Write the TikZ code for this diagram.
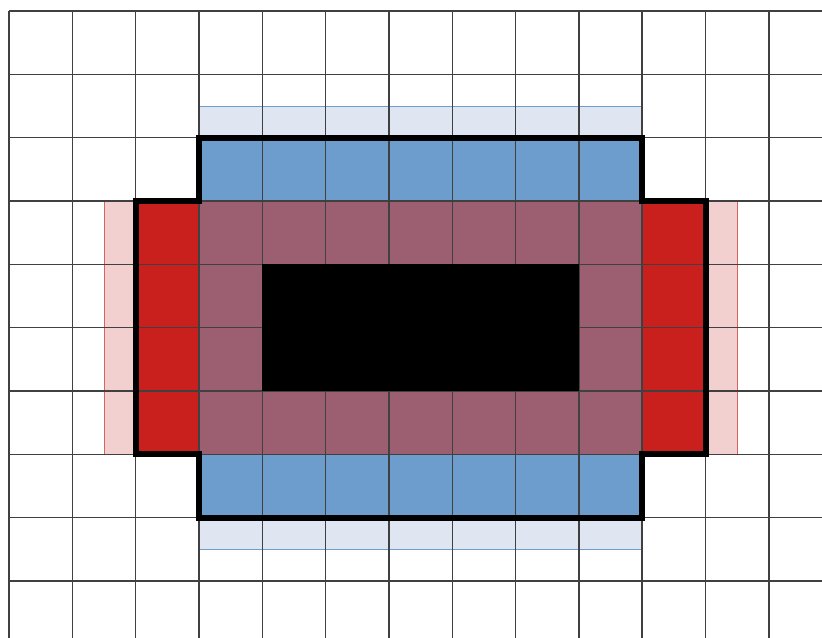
\documentclass[tikz,border=0pt]{standalone}
\begin{document}
\begin{tikzpicture}[yscale=-1,
  gridline/.style={line width=0.7pt, black!75},
  outline/.style={line width=2.7pt, black, line join=miter}]
\definecolor{bluec}{RGB}{109,157,205}
\definecolor{lbluec}{RGB}{223,230,242}
\definecolor{mauvec}{RGB}{156,95,114}
\definecolor{redc}{RGB}{201,32,30}
\definecolor{lpinkc}{RGB}{242,208,208}
\useasboundingbox (-0.142,-0.174) rectangle (12.838,9.900);
\clip (-0.142,-0.174) rectangle (12.838,9.900);
\fill[white] (-0.142,-0.174) rectangle (12.838,9.900);
% light strips
\fill[lbluec] (3,1.5) rectangle (10,2);
\draw[bluec, line width=0.4pt] (3,1.5) -- (10,1.5);
\fill[lbluec] (3,8) rectangle (10,8.5);
\draw[bluec, line width=0.4pt] (3,8.5) -- (10,8.5);
\fill[lpinkc] (1.5,3) rectangle (2,7);
\draw[redc!70, line width=0.4pt] (1.5,3) -- (1.5,7);
\fill[lpinkc] (11,3) rectangle (11.5,7);
\draw[redc!70, line width=0.4pt] (11.5,3) -- (11.5,7);
% coloured cells
\fill[bluec] (3,2) rectangle (10,3);
\fill[bluec] (3,7) rectangle (10,8);
\fill[redc] (2,3) rectangle (3,7);
\fill[redc] (10,3) rectangle (11,7);
\fill[mauvec] (3,3) rectangle (10,7);
% grid
\foreach \x in {0,...,13} \draw[gridline] (\x,0) -- (\x,10.5);
\foreach \y in {0,...,10} \draw[gridline] (0,\y) -- (13.5,\y);
% black core
\fill[black] (4,4) rectangle (9,6);
% thick outline
\draw[outline] (3,2) -- (10,2) -- (10,3) -- (11,3) -- (11,7) -- (10,7) -- (10,8) -- (3,8) -- (3,7) -- (2,7) -- (2,3) -- (3,3) -- cycle;
\end{tikzpicture}
\end{document}
